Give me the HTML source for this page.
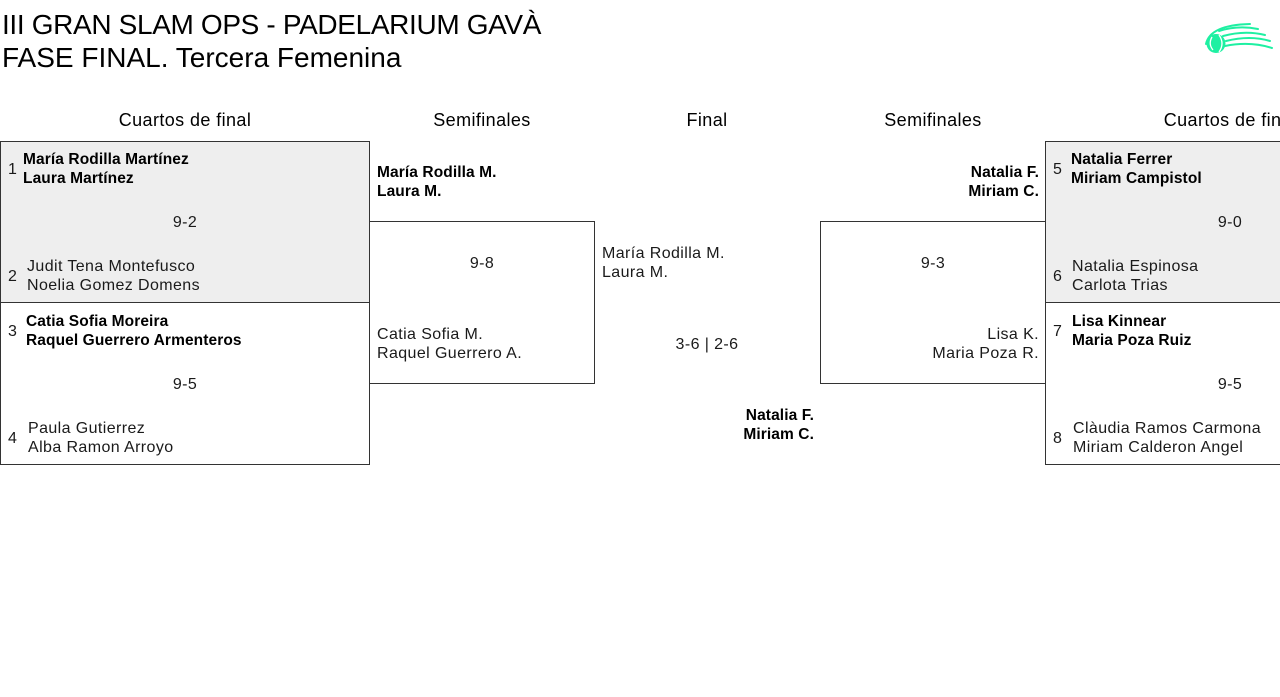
<!DOCTYPE html>
<html>
<head>
<meta charset="utf-8">
<style>
  html, body { margin:0; padding:0; }
  body { width:1280px; height:697px; overflow:hidden; position:relative; background:#fff;
         font-family:"Liberation Sans", Arial, sans-serif; color:#111; }
  .a { position:absolute; white-space:nowrap; }
  .box { position:absolute; box-sizing:border-box; border:1px solid #333; }
  .g { background:#eeeeee; }
  .t { font-size:16px; line-height:19px; letter-spacing:0.4px; color:#1a1a1a; }
  .b { font-size:15.5px; line-height:19px; font-weight:bold; letter-spacing:0.1px; color:#000; }
  .h { font-size:18px; line-height:22px; letter-spacing:0.4px; color:#000; text-align:center; top:109px; }
  .s { font-size:16px; line-height:19px; letter-spacing:0.4px; color:#1a1a1a; text-align:center; }
  .r { text-align:right; }
</style>
</head>
<body>
<!-- Title -->
<div class="a" style="left:2px;top:8px;font-size:28px;line-height:33px;letter-spacing:-0.35px;color:#000;">III GRAN SLAM OPS - PADELARIUM GAVÀ</div>
<div class="a" style="left:2px;top:41px;font-size:28px;line-height:33px;color:#000;">FASE FINAL. Tercera Femenina</div>

<!-- Logo -->
<svg class="a" style="left:0;top:0" width="1280" height="80" viewBox="0 0 1280 80">
  <g fill="none" stroke="#1ef0a2" stroke-linecap="round">
    <path d="M1206,44 Q1210,25 1250,24" stroke-width="2"/>
    <path d="M1219,31 Q1238,25 1258,29" stroke-width="2"/>
    <path d="M1223,36 Q1245,30 1265,35" stroke-width="2"/>
    <path d="M1226,41 Q1250,35 1270,41" stroke-width="2"/>
    <path d="M1225,46 Q1250,41 1272,48" stroke-width="2"/>
  </g>
  <circle cx="1216" cy="43.5" r="9.5" fill="#1ef0a2"/>
  <path d="M1212,37 Q1208,44 1213,50" stroke="#fff" stroke-width="1.3" fill="none"/>
  <path d="M1219,35 Q1225,43.5 1219,52" stroke="#fff" stroke-width="1.3" fill="none"/>
</svg>

<!-- Headers -->
<div class="a h" style="left:0;width:370px;">Cuartos de final</div>
<div class="a h" style="left:369px;width:226px;">Semifinales</div>
<div class="a h" style="left:594px;width:226px;">Final</div>
<div class="a h" style="left:820px;width:226px;">Semifinales</div>
<div class="a h" style="left:1045px;width:370px;">Cuartos de final</div>

<!-- Left QF boxes -->
<div class="box g" style="left:0;top:141px;width:370px;height:162px;"></div>
<div class="box" style="left:0;top:302px;width:370px;height:163px;"></div>

<!-- Left semi box -->
<div class="box" style="left:369px;top:221px;width:226px;height:163px;"></div>

<!-- Right semi box -->
<div class="box" style="left:820px;top:221px;width:226px;height:163px;"></div>

<!-- Right QF boxes -->
<div class="box g" style="left:1045px;top:141px;width:370px;height:162px;"></div>
<div class="box" style="left:1045px;top:302px;width:370px;height:163px;"></div>

<!-- Left QF 1 -->
<div class="a t" style="left:8px;top:159.5px;">1</div>
<div class="a b" style="left:23px;top:149.5px;">María Rodilla Martínez<br>Laura Martínez</div>
<div class="a s" style="left:0;width:370px;top:212.5px;">9-2</div>
<div class="a t" style="left:8px;top:266.5px;">2</div>
<div class="a t" style="left:27px;top:256.5px;">Judit Tena Montefusco<br>Noelia Gomez Domens</div>

<!-- Left QF 2 -->
<div class="a t" style="left:8px;top:321.5px;">3</div>
<div class="a b" style="left:26px;top:311.5px;">Catia Sofia Moreira<br>Raquel Guerrero Armenteros</div>
<div class="a s" style="left:0;width:370px;top:374.5px;">9-5</div>
<div class="a t" style="left:8px;top:428.5px;">4</div>
<div class="a t" style="left:28px;top:418.5px;">Paula Gutierrez<br>Alba Ramon Arroyo</div>

<!-- Left semi -->
<div class="a b" style="left:377px;top:162.5px;">María Rodilla M.<br>Laura M.</div>
<div class="a s" style="left:369px;width:226px;top:253.5px;">9-8</div>
<div class="a t" style="left:377px;top:324.5px;">Catia Sofia M.<br>Raquel Guerrero A.</div>

<!-- Final -->
<div class="a t" style="left:602px;top:243.5px;">María Rodilla M.<br>Laura M.</div>
<div class="a s" style="left:594px;width:226px;top:334.5px;">3-6 | 2-6</div>
<div class="a b r" style="right:466px;top:405.5px;">Natalia F.<br>Miriam C.</div>

<!-- Right semi -->
<div class="a b r" style="right:241px;top:162.5px;">Natalia F.<br>Miriam C.</div>
<div class="a s" style="left:820px;width:226px;top:253.5px;">9-3</div>
<div class="a t r" style="right:241px;top:324.5px;">Lisa K.<br>Maria Poza R.</div>

<!-- Right QF 1 -->
<div class="a t" style="left:1053px;top:159.5px;">5</div>
<div class="a b" style="left:1071px;top:149.5px;">Natalia Ferrer<br>Miriam Campistol</div>
<div class="a s" style="left:1045px;width:370px;top:212.5px;">9-0</div>
<div class="a t" style="left:1053px;top:266.5px;">6</div>
<div class="a t" style="left:1072px;top:256.5px;">Natalia Espinosa<br>Carlota Trias</div>

<!-- Right QF 2 -->
<div class="a t" style="left:1053px;top:321.5px;">7</div>
<div class="a b" style="left:1072px;top:311.5px;">Lisa Kinnear<br>Maria Poza Ruiz</div>
<div class="a s" style="left:1045px;width:370px;top:374.5px;">9-5</div>
<div class="a t" style="left:1053px;top:428.5px;">8</div>
<div class="a t" style="left:1073px;top:418.5px;">Clàudia Ramos Carmona<br>Miriam Calderon Angel</div>
</body>
</html>
